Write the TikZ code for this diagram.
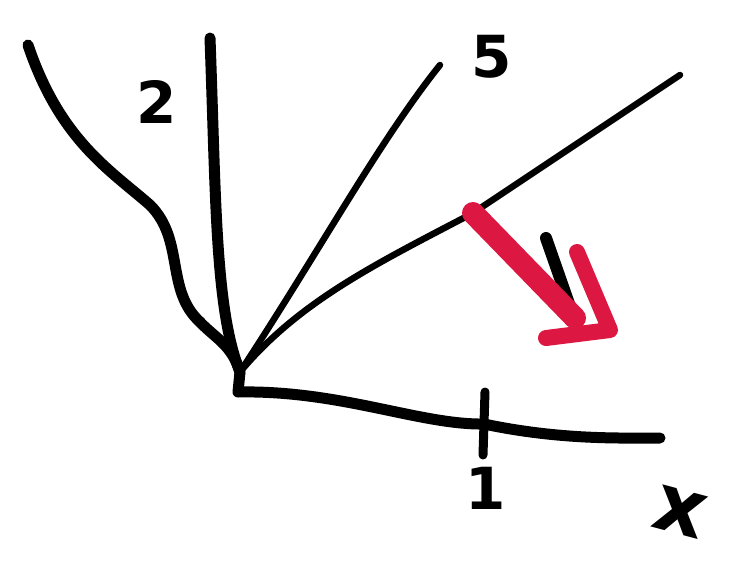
\documentclass[tikz,border=0pt]{standalone}
\usepackage{fontspec}
\setmainfont{DejaVu Sans}
\usepackage{xcolor}
\usetikzlibrary{positioning}
\definecolor{sketchred}{RGB}{220,24,66}

\begin{document}
\begin{tikzpicture}[
    x=1pt, y=-1pt,
    heavy/.style={line width=11pt, line cap=round, line join=round},
    light/.style={line width=6.5pt, line cap=round, line join=round},
    marker/.style={sketchred, line width=22pt, line cap=round, line join=round},
    label/.style={font=\bfseries\fontsize{58}{58}\selectfont, inner sep=0pt}
]
\useasboundingbox (0,0) rectangle (740,571);

% anchor points of the sketch
\coordinate (origin) at (240,372);
\coordinate (xend) at (660,438);
\coordinate (yend) at (210,38);
\coordinate (left) at (28,45);
\coordinate (fivend) at (440,65);
\coordinate (longend) at (680,75);
\coordinate (tick) at (484,424);
\coordinate (ticktop) at (485,392);
\coordinate (tickbot) at (483,455);
\coordinate (foot) at (473,213);
\coordinate (tip) at (575,318);

% axes and branches
\draw[heavy] (yend) .. controls (216,200) and (215,310) .. (origin);
\draw[heavy] (origin) -- (238,392) .. controls (340,390) and (420,425) .. (tick) .. controls (560,440) and (620,438) .. (xend);
\draw[heavy] (left) .. controls (60,140) and (110,170) .. (150,205)
    .. controls (185,240) and (165,290) .. (200,322) .. controls (215,338) and (232,345) .. (origin);
\draw[light] (fivend) .. controls (380,140) and (320,250) .. (origin);
\draw[light] (longend) -- (foot) .. controls (380,262) and (300,300) .. (origin);
\draw[heavy, line width=9pt] (ticktop) -- (tickbot);

% normal arrow
\draw[light] (foot) -- (510,252);
\draw[heavy, line width=12pt] (546,238) -- (574,318);
\draw[marker] (foot) -- (tip);
\draw[marker, line width=16pt] (577,252) -- (610,330) -- (546,338);

% labels
\node[label] (two) at (157,102) {2};
\node[label] (five) at (492,57) {5};
\node[label] (one) at (486,488) {1};
\node[label, font=\bfseries\fontsize{80}{80}\selectfont, rotate=-15] (ex) at (680,512) {x};
\end{tikzpicture}
\end{document}
